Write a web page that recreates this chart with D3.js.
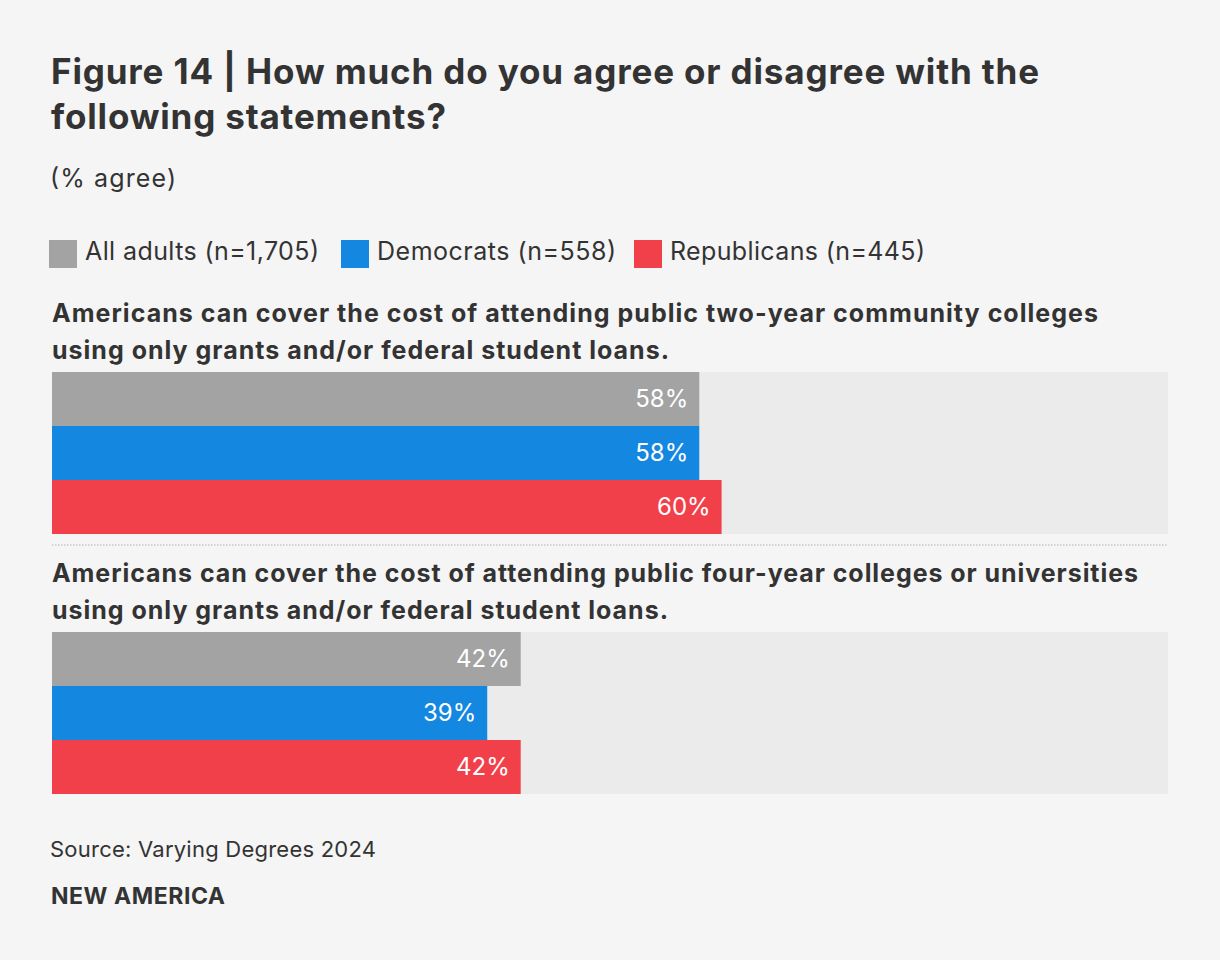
<!DOCTYPE html>
<html><head><meta charset="utf-8">
<script src="https://cdn.jsdelivr.net/npm/d3@7"></script>
<style>
html,body{margin:0;padding:0;background:#f5f5f5;}
svg{display:block;font-family:Inter,"Noto Sans",sans-serif;}
</style></head>
<body>
<script>
const series = ["All adults (n=1,705)", "Democrats (n=558)", "Republicans (n=445)"];
const colors = ["#a3a3a3", "#1487e0", "#f2404b"];
const questions = [
  ["Americans can cover the cost of attending public two-year community colleges", "using only grants and/or federal student loans."],
  ["Americans can cover the cost of attending public four-year colleges or universities", "using only grants and/or federal student loans."]
];
const allAdults = [58, 42];
const democrats = [58, 39];
const republicans = [60, 42];
const values = [allAdults, democrats, republicans];

const W = 1220, H = 960;
const svg = d3.select("body").append("svg").attr("width", W).attr("height", H);
svg.append("rect").attr("width", W).attr("height", H).attr("fill", "#f5f5f5");

const x = d3.scaleLinear().domain([0, 100]).range([52, 1168]);

function fit(sel, w) {
  sel.attr("textLength", w).attr("lengthAdjust", "spacing");
  return sel;
}

// Title
fit(svg.append("text").attr("x", 51).attr("y", 84).attr("fill", "#333").attr("font-weight", 700).attr("font-size", 35)
  .text("Figure 14 | How much do you agree or disagree with the"), 988);
fit(svg.append("text").attr("x", 51).attr("y", 129).attr("fill", "#333").attr("font-weight", 700).attr("font-size", 35)
  .text("following statements?"), 395);
fit(svg.append("text").attr("x", 50).attr("y", 187).attr("fill", "#333").attr("font-size", 25).text("(% agree)"), 126);

// Legend
const legX = [49, 341, 634];
const legW = [234, 239, 255];
series.forEach((s, i) => {
  svg.append("rect").attr("x", legX[i]).attr("y", 240).attr("width", 28).attr("height", 28).attr("fill", colors[i]);
  fit(svg.append("text").attr("x", legX[i] + 36).attr("y", 260).attr("fill", "#333").attr("font-size", 25).text(s), legW[i]);
});

// Groups
const groupTop = [372, 632];
const lineW = [[1046, 617], [1086, 616]];
const barH = 54;
questions.forEach((q, gi) => {
  const g = svg.append("g");
  const top = groupTop[gi];
  q.forEach((line, li) => {
    fit(g.append("text").attr("x", 52).attr("y", top - 50 + li * 37).attr("fill", "#333")
      .attr("font-weight", 700).attr("font-size", 25).text(line), lineW[gi][li]);
  });
  const y = d3.scaleBand().domain(series).range([top, top + barH * 3]).padding(0);
  g.append("rect").attr("x", x(0)).attr("y", top).attr("width", x(100) - x(0)).attr("height", barH * 3).attr("fill", "#ebebeb");
  series.forEach((s, si) => {
    const v = values[si][gi];
    g.append("rect").attr("x", x(0)).attr("y", y(s)).attr("width", x(v) - x(0)).attr("height", y.bandwidth()).attr("fill", colors[si]);
    g.append("text").attr("x", x(v) - 11).attr("y", y(s) + y.bandwidth() / 2 + 8).attr("text-anchor", "end")
      .attr("fill", "#fff").attr("font-size", 24).text(v + "%");
  });
});

// separator
svg.append("line").attr("x1", 52).attr("x2", 1168).attr("y1", 545).attr("y2", 545)
  .attr("stroke", "#c8c8c8").attr("stroke-width", 1.5).attr("stroke-dasharray", "1.5,1.5");

fit(svg.append("text").attr("x", 50).attr("y", 857).attr("fill", "#333").attr("font-size", 22).text("Source: Varying Degrees 2024"), 326);
fit(svg.append("text").attr("x", 51).attr("y", 904).attr("fill", "#333").attr("font-size", 23).attr("font-weight", 700).text("NEW AMERICA"), 174);
</script>
</body></html>
